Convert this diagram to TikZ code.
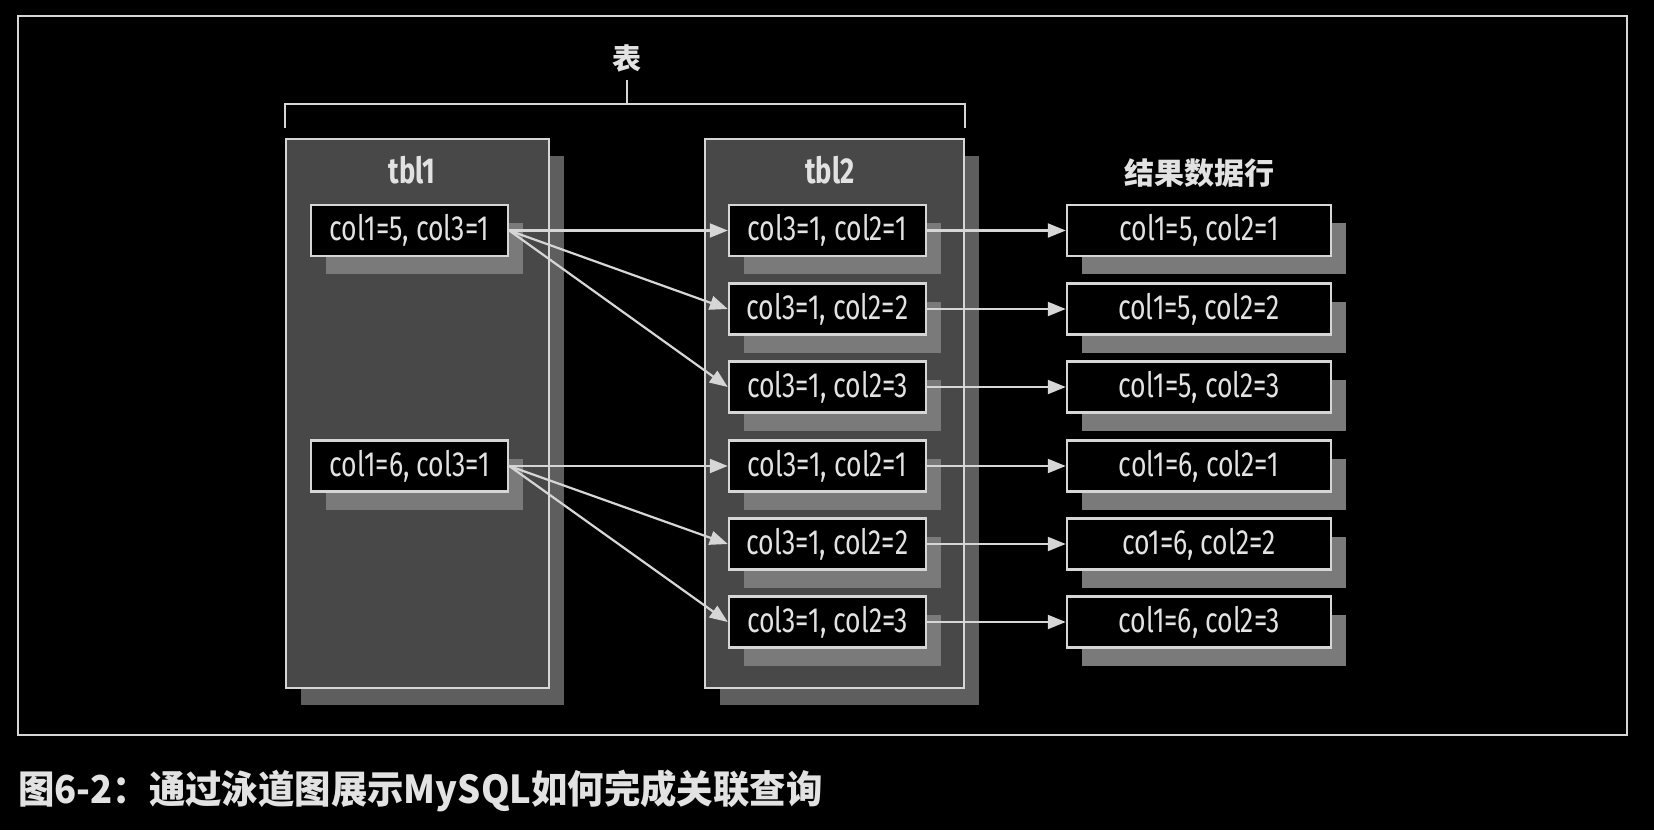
\documentclass[tikz,border=0pt]{standalone}
\usepackage{fontspec}
\setmainfont{Fira Sans}
\newfontfamily\cond[FakeStretch=0.76]{Fira Sans}
\newfontfamily\cjk{Noto Sans CJK SC}
\newfontfamily\cjkcap[FakeStretch=0.945]{Noto Sans CJK SC}
\usetikzlibrary{arrows.meta,shadows,calc}
\definecolor{fg}{HTML}{D6D6D6}
\definecolor{txt}{HTML}{E2E2E2}
\definecolor{tblfill}{HTML}{484848}
\definecolor{tblshadow}{HTML}{5E5E5E}
\definecolor{boxshadow}{HTML}{7A7A7A}
\tikzset{
  tblbox/.style={draw=fg, line width=2.5pt, fill=tblfill, minimum height=549pt, inner sep=0pt,
    drop shadow={shadow xshift=15pt, shadow yshift=-17pt, fill=tblshadow, opacity=1}},
  rowbox/.style={draw=fg, line width=2.5pt, fill=black, minimum height=51pt, inner sep=0pt,
    text=txt, font=\cond\fontsize{35}{38}\selectfont,
    drop shadow={shadow xshift=15pt, shadow yshift=-18pt, fill=boxshadow, opacity=1}},
  lbox/.style={rowbox, minimum width=197pt},
  mbox/.style={rowbox, minimum width=197pt},
  rbox/.style={rowbox, minimum width=264pt},
  conn/.style={draw=fg, line width=2.2pt, -{Triangle[length=18pt,width=14pt]}},
  lbl/.style={text=txt, inner sep=0pt},
}
\begin{document}
\begin{tikzpicture}[x=1pt,y=-1pt]
\useasboundingbox (0,0) rectangle (1654,830);
\fill[black] (0,0) rectangle (1654,830);
\draw[fg, line width=2pt] (18,16) rectangle (1627,735);

% table columns
\node[tblbox, minimum width=263pt] (tbl1) at (417.5,413.5) {};
\node[tblbox, minimum width=259pt] (tbl2) at (834.5,413.5) {};

% bracket
\node[lbl, font=\cjk\bfseries\fontsize{29}{30}\selectfont] (biao) at (627,58) {表};
\draw[fg, line width=2pt] ([yshift=10pt]tbl1.north west) -- ([yshift=34pt]tbl1.north west)
  -- ([yshift=34pt]tbl2.north east) -- ([yshift=10pt]tbl2.north east);
\coordinate (bmid) at (627,105);
\draw[fg, line width=2pt] (bmid) -- ([yshift=-8pt]biao.south);

% titles
\node[lbl, font=\cond\bfseries\fontsize{36}{38}\selectfont] (t1) at (412,170) {tbl1};
\node[lbl, font=\cond\bfseries\fontsize{36}{38}\selectfont] (t2) at (830,170) {tbl2};
\node[lbl, font=\cjk\bfseries\fontsize{30}{32}\selectfont] (res) at (1199,173) {结果数据行};

% left rows
\node[lbox] (a1) at (409.5,230.5) {col1=5, col3=1};
\node[lbox] (a2) at (409.5,466) {col1=6, col3=1};

% middle rows
\node[mbox] (m1) at (827.5,230.5) {col3=1, col2=1};
\node[mbox] (m2) at (827.5,309) {col3=1, col2=2};
\node[mbox] (m3) at (827.5,387) {col3=1, col2=3};
\node[mbox] (m4) at (827.5,466) {col3=1, col2=1};
\node[mbox] (m5) at (827.5,544) {col3=1, col2=2};
\node[mbox] (m6) at (827.5,622) {col3=1, col2=3};

% result rows
\node[rbox] (r1) at (1199,230.5) {col1=5, col2=1};
\node[rbox] (r2) at (1199,309) {col1=5, col2=2};
\node[rbox] (r3) at (1199,387) {col1=5, col2=3};
\node[rbox] (r4) at (1199,466) {col1=6, col2=1};
\node[rbox] (r5) at (1199,544) {co1=6, col2=2};
\node[rbox] (r6) at (1199,622) {col1=6, col2=3};

% connectors
\foreach \m in {m1,m2,m3} \draw[conn] (a1.east) -- (\m.west);
\foreach \m in {m4,m5,m6} \draw[conn] (a2.east) -- (\m.west);
\foreach \i in {1,...,6} \draw[conn] (m\i.east) -- (r\i.west);

% caption
\node[anchor=west, inner sep=0pt, text=txt, font=\cjkcap\bfseries\fontsize{38.5}{40}\selectfont] (cap) at (18,791)
  {图6-2：通过泳道图展示MySQL如何完成关联查询};
\end{tikzpicture}
\end{document}
